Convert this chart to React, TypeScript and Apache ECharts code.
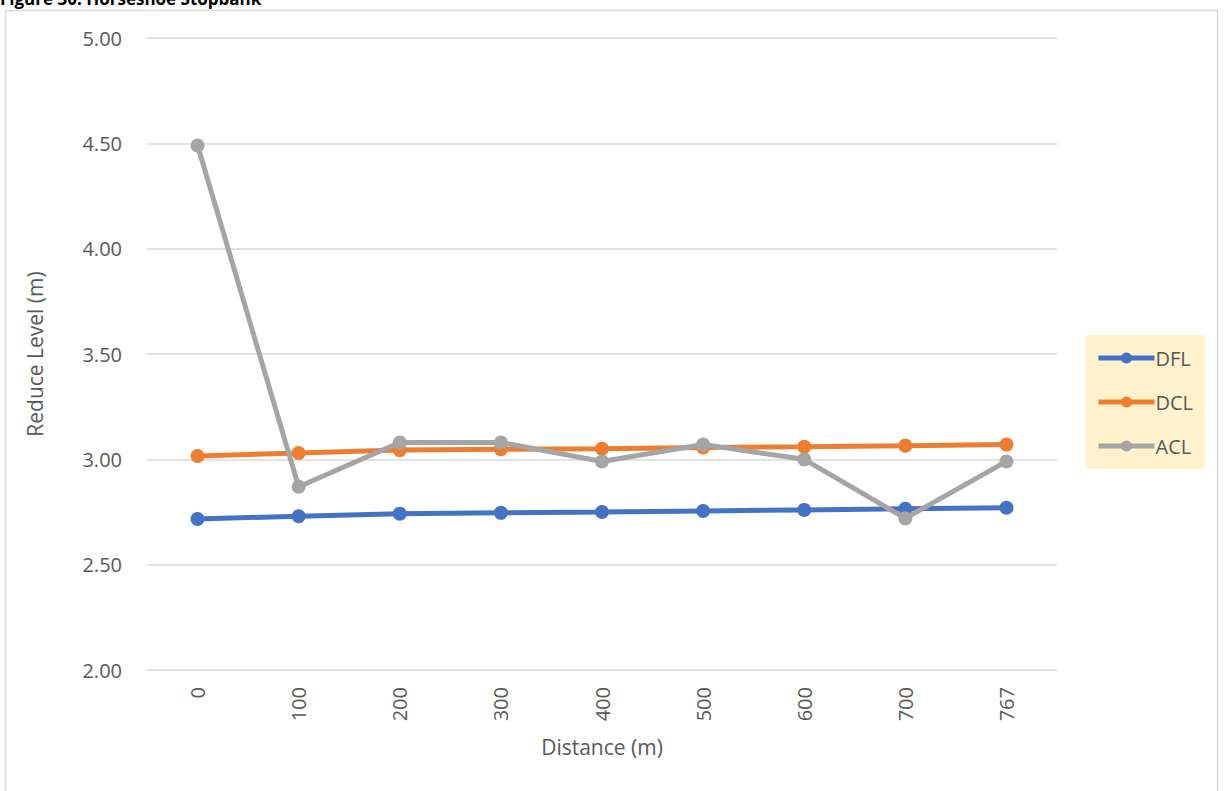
import React, { useEffect, useRef } from "react";
import * as echarts from "echarts";

const categories = ["0", "100", "200", "300", "400", "500", "600", "700", "767"];
const dfl = [2.717, 2.73, 2.742, 2.746, 2.75, 2.755, 2.76, 2.765, 2.77];
const dcl = [3.016, 3.03, 3.044, 3.048, 3.05, 3.056, 3.06, 3.065, 3.07];
const acl = [4.49, 2.87, 3.08, 3.08, 2.99, 3.07, 3.0, 2.72, 2.99];
const seriesNames = ["DFL", "DCL", "ACL"];
const colors = ["#4472C4", "#ED7D31", "#A5A5A5"];

const FONT = "'Open Sans', sans-serif";

export default function App() {
  const ref = useRef<HTMLDivElement>(null);
  useEffect(() => {
    if (!ref.current) return;
    const chart = echarts.init(ref.current, undefined, { renderer: "svg" });
    const datasets = [dfl, dcl, acl];
    chart.setOption({
      animation: false,
      backgroundColor: "#ffffff",
      textStyle: { fontFamily: FONT },
      graphic: [
        {
          type: "rect",
          shape: { x: 5.5, y: 10.5, width: 1212, height: 790 },
          style: { fill: "none", stroke: "#D9D9D9", lineWidth: 1.5 },
          silent: true,
        },
        {
          type: "text",
          left: 0,
          top: -10,
          style: {
            text: "Figure 30: Horseshoe Stopbank",
            fontFamily: FONT,
            fontWeight: "bold",
            fontSize: 17,
            fill: "#000000",
          },
        },
      ],
      grid: { left: 147, right: 172, top: 38, bottom: 121, containLabel: false },
      legend: {
        orient: "vertical",
        left: 1086,
        top: 335,
        data: seriesNames,
        backgroundColor: "#FFF2CC",
        padding: [13, 12, 13, 10],
        itemWidth: 56,
        itemHeight: 14,
        itemGap: 24,
        lineStyle: { width: 5 },
        textStyle: { fontSize: 20, color: "#595959", fontFamily: FONT, padding: [0, 0, 0, -4] },
      },
      xAxis: {
        type: "category",
        data: categories,
        boundaryGap: true,
        name: "Distance (m)",
        nameLocation: "middle",
        nameGap: 66,
        nameTextStyle: { fontSize: 21, color: "#595959", fontFamily: FONT },
        axisLine: { show: false },
        axisTick: { show: false },
        axisLabel: { rotate: 90, fontSize: 20, color: "#595959", margin: 17, fontFamily: FONT },
      },
      yAxis: {
        type: "value",
        min: 2,
        max: 5,
        interval: 0.5,
        name: "Reduce Level (m)",
        nameLocation: "middle",
        nameGap: 102,
        nameTextStyle: { fontSize: 21, color: "#595959", fontFamily: FONT },
        axisLine: { show: false },
        axisTick: { show: false },
        axisLabel: {
          fontSize: 20,
          color: "#595959",
          margin: 25,
          fontFamily: FONT,
          formatter: (v: number) => v.toFixed(2),
        },
        splitLine: { lineStyle: { color: "#D9D9D9", width: 1.5 } },
      },
      series: seriesNames.map((name, i) => ({
        name,
        type: "line",
        data: datasets[i],
        symbol: "circle",
        symbolSize: 14,
        lineStyle: { width: 5, color: colors[i] },
        itemStyle: { color: colors[i] },
        z: 2 + i,
      })),
    });
    return () => chart.dispose();
  }, []);
  return (
    <div
      ref={ref}
      style={{ position: "absolute", left: 0, top: 0, width: 1229, height: 791 }}
    />
  );
}
